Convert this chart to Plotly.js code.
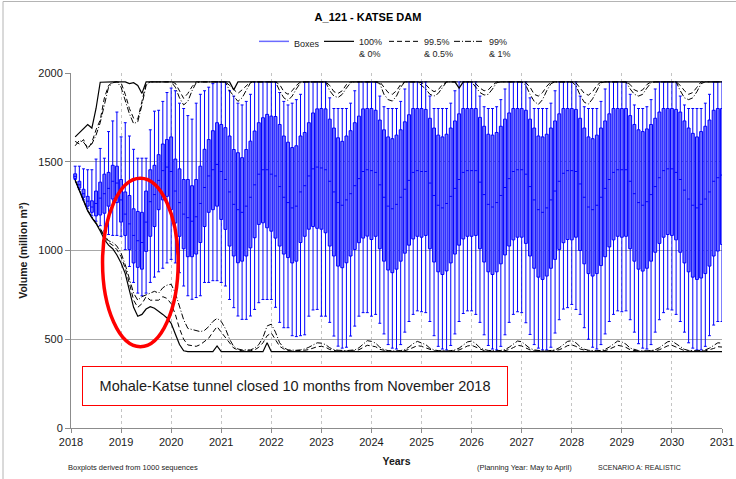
<!DOCTYPE html>
<html><head><meta charset="utf-8">
<script src="https://cdn.plot.ly/plotly-3.0.1.min.js"></script>
<style>html,body{margin:0;padding:0;background:#fff}#chart{width:736px;height:479px}</style>
</head><body><div id="chart"></div>
<script>
// Monthly boxplot statistics, Jan 2018 .. Dec 2030 (12 values per row = one year)
const startYear = 2018;
const whiskerHigh = [
1475,1475,1460,1455,1455,1515,1575,1520,1670,1730,1780,1640,
1720,1645,1570,1520,1520,1520,1680,1785,1790,1840,1890,1915,
1900,1830,1800,1760,1740,1830,1880,1900,1920,1940,1950,1950,
1950,1900,1870,1830,1820,1840,1880,1950,1950,1950,1950,1950,
1950,1890,1840,1820,1830,1850,1880,1950,1950,1950,1950,1950,
1950,1860,1800,1800,1800,1800,1830,1900,1950,1950,1950,1950,
1950,1870,1810,1800,1800,1800,1840,1910,1950,1950,1950,1950,
1950,1870,1800,1800,1800,1800,1830,1900,1950,1950,1950,1950,
1950,1870,1810,1800,1800,1810,1850,1910,1950,1950,1950,1950,
1950,1860,1800,1800,1800,1800,1830,1900,1950,1950,1950,1950,
1950,1870,1810,1800,1800,1800,1840,1910,1950,1950,1950,1950,
1950,1880,1820,1800,1800,1810,1850,1910,1950,1950,1950,1950,
1950,1870,1820,1800,1800,1800,1800,1830,1880,1950,1950,1950];
const q3 = [
1432,1390,1345,1305,1280,1335,1385,1430,1440,1480,1475,1400,
1330,1310,1235,1220,1215,1335,1455,1480,1540,1600,1625,1640,
1515,1460,1400,1400,1365,1400,1475,1570,1625,1675,1720,1710,
1692,1645,1569,1551,1523,1569,1616,1673,1720,1748,1767,1757,
1755,1710,1645,1610,1580,1590,1645,1665,1720,1775,1798,1800,
1798,1740,1690,1635,1615,1645,1675,1720,1757,1798,1800,1800,
1790,1735,1680,1640,1630,1650,1680,1725,1765,1800,1800,1800,
1795,1745,1690,1650,1640,1655,1690,1730,1770,1800,1800,1800,
1800,1750,1700,1655,1650,1665,1700,1740,1775,1800,1800,1800,
1790,1740,1690,1645,1640,1655,1690,1730,1770,1800,1800,1800,
1795,1745,1690,1640,1630,1650,1690,1730,1770,1800,1800,1800,
1800,1760,1710,1680,1670,1685,1710,1745,1780,1800,1800,1800,
1795,1780,1730,1690,1660,1640,1670,1700,1735,1790,1800,1800];
const median = [
1418,1370,1320,1278,1245,1265,1295,1320,1350,1390,1380,1285,
1205,1150,1085,1055,1045,1160,1275,1315,1395,1450,1470,1445,
1335,1270,1205,1185,1165,1190,1265,1355,1420,1455,1485,1445,
1400,1330,1260,1230,1215,1250,1300,1370,1430,1455,1455,1430,
1420,1360,1300,1270,1240,1250,1330,1365,1420,1460,1470,1465,
1455,1390,1330,1270,1255,1285,1320,1365,1405,1445,1455,1450,
1440,1370,1300,1250,1235,1260,1300,1345,1395,1440,1450,1445,
1445,1380,1310,1255,1240,1265,1305,1350,1400,1440,1450,1450,
1450,1385,1315,1260,1245,1270,1310,1355,1405,1445,1455,1455,
1430,1360,1285,1230,1215,1240,1285,1335,1390,1435,1450,1450,
1445,1375,1300,1245,1230,1255,1300,1350,1400,1440,1455,1455,
1455,1390,1320,1270,1255,1275,1315,1360,1410,1450,1460,1460,
1440,1400,1340,1290,1255,1240,1260,1290,1330,1390,1410,1425];
const q1 = [
1405,1352,1300,1250,1215,1195,1200,1210,1250,1290,1270,1160,
1085,1005,930,905,895,995,1080,1135,1230,1285,1305,1230,
1155,1080,1010,965,965,980,1045,1135,1215,1230,1250,1175,
1119,1025,969,931,940,969,1015,1072,1147,1156,1128,1109,
1070,1025,980,960,930,940,1045,1080,1120,1135,1125,1120,
1100,1025,969,912,903,931,969,1006,1044,1070,1081,1062,
1080,1010,940,890,875,895,940,985,1030,1065,1080,1075,
1085,1010,935,880,865,885,930,980,1030,1065,1080,1080,
1085,1010,935,880,865,880,925,975,1025,1060,1075,1075,
1040,969,900,850,837,856,900,950,1006,1044,1062,1060,
1075,1000,925,870,856,870,915,965,1020,1060,1080,1075,
1080,1010,940,895,884,900,940,990,1040,1075,1090,1085,
1060,990,930,880,850,837,845,870,912,969,997,1034];
const whiskerLow = [
1400,1345,1285,1235,1195,1165,1140,1110,1090,1085,1085,1080,
1005,910,820,760,745,760,820,850,880,900,930,950,
930,875,800,745,725,735,745,820,820,830,830,820,
800,724,678,631,612,612,631,668,706,724,724,724,
680,595,565,565,520,515,520,525,630,665,668,630,
630,595,518,461,450,455,518,574,630,650,650,630,
640,590,530,470,450,445,470,540,600,640,660,655,
650,600,520,460,445,440,465,530,600,645,660,660,
640,595,525,465,445,440,460,525,595,640,655,650,
593,527,470,450,440,440,455,535,610,670,678,696,
668,640,565,500,455,445,470,530,600,640,660,655,
660,610,540,475,450,445,470,540,610,650,670,665,
640,600,540,480,450,440,440,460,520,580,600,600];

// Percentile envelopes
const p100 = [
1640,1665,1690,1710,1690,1800,1948,1950,1950,1950,1950,1950,
1950,1940,1945,1930,1885,1950,1950,1950,1950,1950,1950,1950,
1950,1950,1950,1950,1950,1950,1950,1950,1950,1950,1950,1950,
1950,1950,1905,1950,1950,1950,1950,1950,1950,1950,1950,1950,
1950,1950,1950,1950,1950,1950,1950,1950,1950,1950,1950,1950,
1950,1950,1950,1950,1950,1950,1950,1950,1950,1950,1950,1950,
1950,1950,1950,1950,1950,1950,1950,1950,1950,1950,1950,1950,
1950,1950,1950,1950,1950,1950,1950,1950,1915,1950,1950,1950,
1950,1950,1950,1950,1950,1950,1950,1950,1950,1950,1950,1950,
1950,1950,1950,1950,1950,1950,1950,1950,1950,1950,1950,1950,
1950,1950,1950,1950,1950,1950,1950,1950,1950,1950,1950,1950,
1950,1950,1950,1950,1950,1950,1950,1950,1950,1950,1950,1950,
1950,1950,1950,1950,1950,1950,1950,1950,1950,1950,1950,1950];
const p995 = [
1615,1600,1625,1570,1610,1680,1735,1860,1930,1948,1950,1945,
1880,1800,1745,1740,1840,1940,1950,1950,1950,1950,1950,1950,
1942,1895,1857,1885,1923,1950,1950,1950,1950,1950,1950,1950,
1950,1930,1905,1885,1905,1930,1950,1950,1950,1950,1950,1950,
1950,1935,1895,1880,1900,1930,1950,1950,1950,1950,1950,1950,
1950,1930,1895,1885,1900,1935,1950,1950,1950,1950,1950,1950,
1950,1950,1920,1890,1880,1900,1935,1950,1950,1950,1950,1945,
1935,1910,1895,1905,1935,1950,1950,1950,1950,1950,1950,1950,
1940,1915,1900,1905,1930,1950,1950,1950,1950,1950,1950,1950,
1945,1920,1880,1870,1890,1925,1950,1950,1950,1950,1950,1950,
1945,1915,1885,1875,1895,1930,1950,1950,1950,1950,1950,1950,
1950,1935,1905,1895,1905,1935,1950,1950,1950,1950,1950,1950,
1950,1930,1900,1880,1890,1920,1950,1950,1950,1950,1950,1950];
const p99 = [
1590,1620,1610,1580,1600,1650,1720,1830,1920,1945,1950,1920,
1840,1770,1715,1725,1820,1930,1950,1950,1950,1950,1950,1950,
1920,1860,1820,1840,1900,1945,1950,1950,1950,1950,1950,1950,
1950,1900,1870,1840,1860,1900,1945,1950,1950,1950,1950,1950,
1950,1900,1860,1845,1870,1910,1945,1950,1950,1950,1950,1950,
1950,1900,1870,1862,1880,1915,1945,1950,1950,1950,1950,1950,
1950,1940,1880,1850,1842,1870,1920,1950,1950,1950,1950,1930,
1910,1880,1870,1885,1920,1950,1950,1950,1950,1950,1950,1950,
1920,1890,1876,1880,1910,1945,1950,1950,1950,1950,1950,1950,
1930,1880,1840,1823,1850,1900,1940,1950,1950,1950,1950,1950,
1930,1875,1835,1825,1855,1905,1945,1950,1950,1950,1950,1950,
1950,1910,1880,1870,1880,1915,1945,1950,1950,1950,1950,1950,
1950,1900,1860,1850,1860,1895,1940,1950,1950,1950,1950,1950];
const p1 = [
1398,1340,1280,1228,1190,1158,1124,1085,1055,1045,1025,985,
920,840,760,720,740,750,760,770,760,790,805,810,
760,690,610,561,555,548,543,550,571,600,618,600,
560,500,459,445,440,440,440,450,470,510,575,585,
540,480,452,440,438,438,440,445,455,470,480,478,
470,452,442,438,436,436,438,440,452,470,492,488,
478,455,442,436,434,434,436,442,456,475,488,480,
470,450,440,436,434,434,436,440,450,468,485,490,
475,452,442,437,435,435,437,442,455,472,490,486,
468,448,440,436,434,434,436,440,452,470,488,492,
480,458,444,438,435,435,437,443,456,474,490,485,
472,450,441,436,434,434,436,441,452,470,486,490,
475,455,443,437,435,435,437,440,450,465,480,478];
const p05 = [
1396,1337,1277,1225,1187,1155,1118,1075,1045,1030,1005,965,
900,815,720,680,700,740,720,720,720,740,730,700,
640,560,500,468,462,460,470,490,506,540,571,540,
510,477,450,440,435,435,435,440,455,480,520,535,
500,460,445,436,434,434,435,438,442,450,458,460,
455,442,436,433,432,432,433,435,441,452,466,462,
458,443,436,433,432,432,433,436,443,455,464,460,
452,440,435,433,432,432,433,435,440,450,462,466,
456,442,436,433,432,432,433,436,442,453,466,462,
452,440,435,433,432,432,433,435,441,451,464,468,
460,445,437,433,432,432,433,436,444,456,466,461,
454,441,435,433,432,432,433,435,441,451,463,466,
456,443,436,433,432,432,433,435,440,448,458,456];
const p0 = [
1394,1334,1274,1222,1184,1152,1110,1062,1030,1010,975,930,
870,780,680,630,640,670,683,675,660,640,620,590,
530,470,435,430,430,430,430,430,430,430,462,430,
430,430,430,430,430,430,430,430,430,430,480,430,
430,430,430,430,430,430,430,430,430,430,430,430,
430,430,430,430,430,430,430,430,430,430,430,430,
430,430,430,430,430,430,430,430,430,430,430,430,
430,430,430,430,430,430,430,430,430,430,430,430,
430,430,430,430,430,430,430,430,430,430,430,430,
430,430,430,430,430,430,430,430,430,430,430,430,
430,430,430,430,430,430,430,430,430,430,430,430,
430,430,430,430,430,430,430,430,430,430,430,430,
430,430,430,430,430,430,430,430,430,430,430,430];

const legendNames = ['Boxes', '100%<br>& 0%', '99.5%<br>& 0.5%', '99%<br>& 1%'];

// month-end positions in decimal years
const xs = q1.map((_, i) => startYear + (i + 1) / 12);

const FONT = '"Liberation Sans", Arial, sans-serif';
const traces = [];
traces.push({
  type: 'box', x: xs, q1: q1, median: median, q3: q3,
  lowerfence: whiskerLow, upperfence: whiskerHigh,
  width: 0.058, whiskerwidth: 1, boxpoints: false,
  fillcolor: '#7070ff', line: {color: '#0000ff', width: 1},
  showlegend: false, hoverinfo: 'skip'
});
traces.push({type: 'scatter', mode: 'lines', x: [null], y: [null], name: legendNames[0],
  line: {color: '#6b6bff', width: 1.5}, hoverinfo: 'skip'});
function envelope(name, upper, lower, dash, width, grp) {
  traces.push({type: 'scatter', mode: 'lines', x: xs, y: upper, name: name, legendgroup: grp,
    line: {color: '#000', width: width, dash: dash}, hoverinfo: 'skip'});
  traces.push({type: 'scatter', mode: 'lines', x: xs, y: lower, name: name, legendgroup: grp, showlegend: false,
    line: {color: '#000', width: width, dash: dash}, hoverinfo: 'skip'});
}
envelope(legendNames[1], p100, p0, 'solid', 1.2, 'a');
envelope(legendNames[2], p995, p05, '5px,3px', 1, 'b');
envelope(legendNames[3], p99, p1, '6px,2px,1px,2px', 1, 'c');

const W = 736, H = 479, L = 71, R = 14, T = 73, B = 51;
const pw = W - L - R, ph = H - T - B;
const px = v => (v - L) / pw;
const py = v => (H - B - v) / ph;

const layout = {
  width: W, height: H,
  margin: {l: L, r: R, t: T, b: B},
  paper_bgcolor: '#fff', plot_bgcolor: '#fff',
  font: {family: FONT, size: 11, color: '#1a1a1a'},
  title: {text: '<b>A_121 - KATSE DAM</b>', x: 0.5, xref: 'container', xanchor: 'center',
          y: 1 - 17 / H, yref: 'container', yanchor: 'middle', font: {size: 11, color: '#000'}},
  showlegend: true,
  legend: {orientation: 'h', x: px(254), xanchor: 'left', y: py(29), yanchor: 'top',
           font: {size: 9, color: '#222'}, entrywidth: 20, entrywidthmode: 'pixels',
           itemwidth: 30, valign: 'top', traceorder: 'normal', bgcolor: 'rgba(0,0,0,0)'},
  xaxis: {range: [2018, 2031], tick0: 2018, dtick: 1, showgrid: true, gridcolor: '#c4c4c4',
          griddash: 'dot', gridwidth: 1, showline: true, linecolor: '#8c8c8c', linewidth: 1,
          ticks: 'outside', ticklen: 4, tickcolor: '#8c8c8c', tickfont: {size: 11}, zeroline: false,
          title: {text: '<b>Years</b>', font: {size: 10.5}, standoff: 10}},
  yaxis: {range: [0, 2000], tick0: 0, dtick: 500, showgrid: true, gridcolor: '#a8a8a8', gridwidth: 1.3,
          showline: true, linecolor: '#8c8c8c', linewidth: 1, ticks: 'outside', ticklen: 5,
          tickcolor: '#8c8c8c', zeroline: false, tickfont: {size: 11},
          title: {text: '<b>Volume (million m³)</b>', font: {size: 10.5}, standoff: 8}},
  shapes: [
    {type: 'circle', xref: 'x', yref: 'y', x0: 2018.63, x1: 2020.14, y0: 458, y1: 1407,
     line: {color: '#ff0000', width: 3.5}, layer: 'above'},
    {type: 'path', xref: 'paper', yref: 'paper',
     path: `M ${px(3)},${py(479)} L ${px(3)},${py(1.5)} L ${px(736)},${py(1.5)}`,
     line: {color: '#b4b4b4', width: 1}}
  ],
  annotations: [
    {xref: 'paper', yref: 'paper', x: px(295), y: py(386), xanchor: 'center', yanchor: 'middle',
     text: 'Mohale-Katse tunnel closed 10 months from November 2018', showarrow: false,
     font: {size: 14.5, color: '#1a1a1a'}, bordercolor: '#ff0000', borderwidth: 1,
     width: 420, height: 34, borderpad: 2, bgcolor: '#fff', align: 'center'},
    {xref: 'paper', yref: 'paper', x: px(66), y: py(467), xanchor: 'left', yanchor: 'middle',
     text: 'Boxplots derived from 1000 sequences', showarrow: false, font: {size: 7.5, color: '#222'}},
    {xref: 'paper', yref: 'paper', x: px(475), y: py(467), xanchor: 'left', yanchor: 'middle',
     text: '(Planning Year: May to April)', showarrow: false, font: {size: 7.5, color: '#222'}},
    {xref: 'paper', yref: 'paper', x: px(596), y: py(467), xanchor: 'left', yanchor: 'middle',
     text: 'SCENARIO A: REALISTIC', showarrow: false, font: {size: 7, color: '#222'}}
  ]
};

Plotly.newPlot('chart', traces, layout, {displayModeBar: false, staticPlot: true});
</script>
</body></html>
